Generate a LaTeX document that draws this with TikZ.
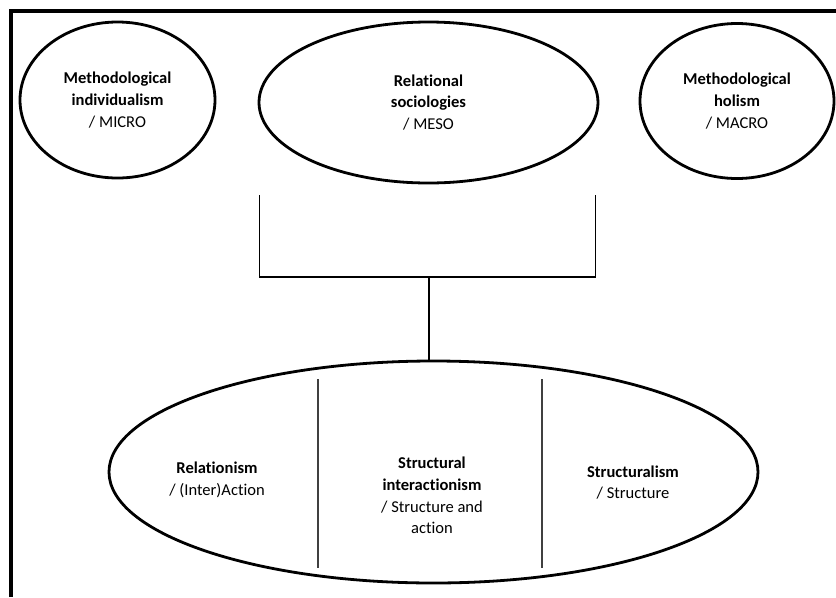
\documentclass[tikz,border=0pt]{standalone}
\usepackage{fontspec}
\setmainfont[Ligatures={NoCommon}]{Carlito}
\usetikzlibrary{shapes.geometric}
\begin{document}
\begin{tikzpicture}[x=0.75pt,y=-0.75pt,
  oval/.style={ellipse, draw, line width=2.1pt, inner sep=0pt, align=center,
    font=\fontsize{12.4}{16.2}\selectfont},
  lbl/.style={align=center, font=\fontsize{12.4}{16.2}\selectfont, inner sep=0pt},
  bracketline/.style={line width=0.8pt},
  divider/.style={line width=0.9pt, draw=black!75},
  frameline/.style={line width=2.4pt}]
\useasboundingbox (0,0) rectangle (836,597);
% outer frame (cropped at right and bottom)
\coordinate (fbl) at (11,597);
\coordinate (ftl) at (11,11);
\coordinate (ftr) at (836,11);
\draw[frameline] (fbl) -- (ftl) -- (ftr);
% top ellipses
\node[oval, minimum width=195*0.75pt, minimum height=156*0.75pt] (micro) at (117.5,100)
  {\textbf{Methodological}\\\textbf{individualism}\\/ MICRO};
\node[oval, minimum width=339*0.75pt, minimum height=161*0.75pt] (meso) at (428.5,102.5)
  {\textbf{Relational}\\\textbf{sociologies}\\/ MESO};
\node[oval, minimum width=194*0.75pt, minimum height=155*0.75pt] (macro) at (737,101)
  {\textbf{Methodological}\\\textbf{holism}\\/ MACRO};
% bottom ellipse
\node[oval, minimum width=649*0.75pt, minimum height=222*0.75pt] (bottom) at (433.5,472) {};
\node[lbl] (rel) at (217,480) {\textbf{Relationism}\\/ (Inter)Action};
\node[lbl] (si) at (432,495.5) {\textbf{Structural}\\\textbf{interactionism}\\/ Structure and\\action};
\node[lbl] (str) at (633,482.5) {\textbf{Structuralism}\\/ Structure};
% dividers
\coordinate (d1t) at (318,379);
\coordinate (d1b) at (318,568);
\coordinate (d2t) at (542,379);
\coordinate (d2b) at (542,568);
\draw[divider] (d1t) -- (d1b);
\draw[divider] (d2t) -- (d2b);
% bracket
\coordinate (bl) at (259.5,195);
\coordinate (br) at (595.5,195);
\coordinate (bar) at (429,277);
\draw[bracketline] (bl) -- (bl |- bar) -- (br |- bar) -- (br);
\draw[bracketline] (bar) -- (bar |- bottom.north);
\end{tikzpicture}
\end{document}
